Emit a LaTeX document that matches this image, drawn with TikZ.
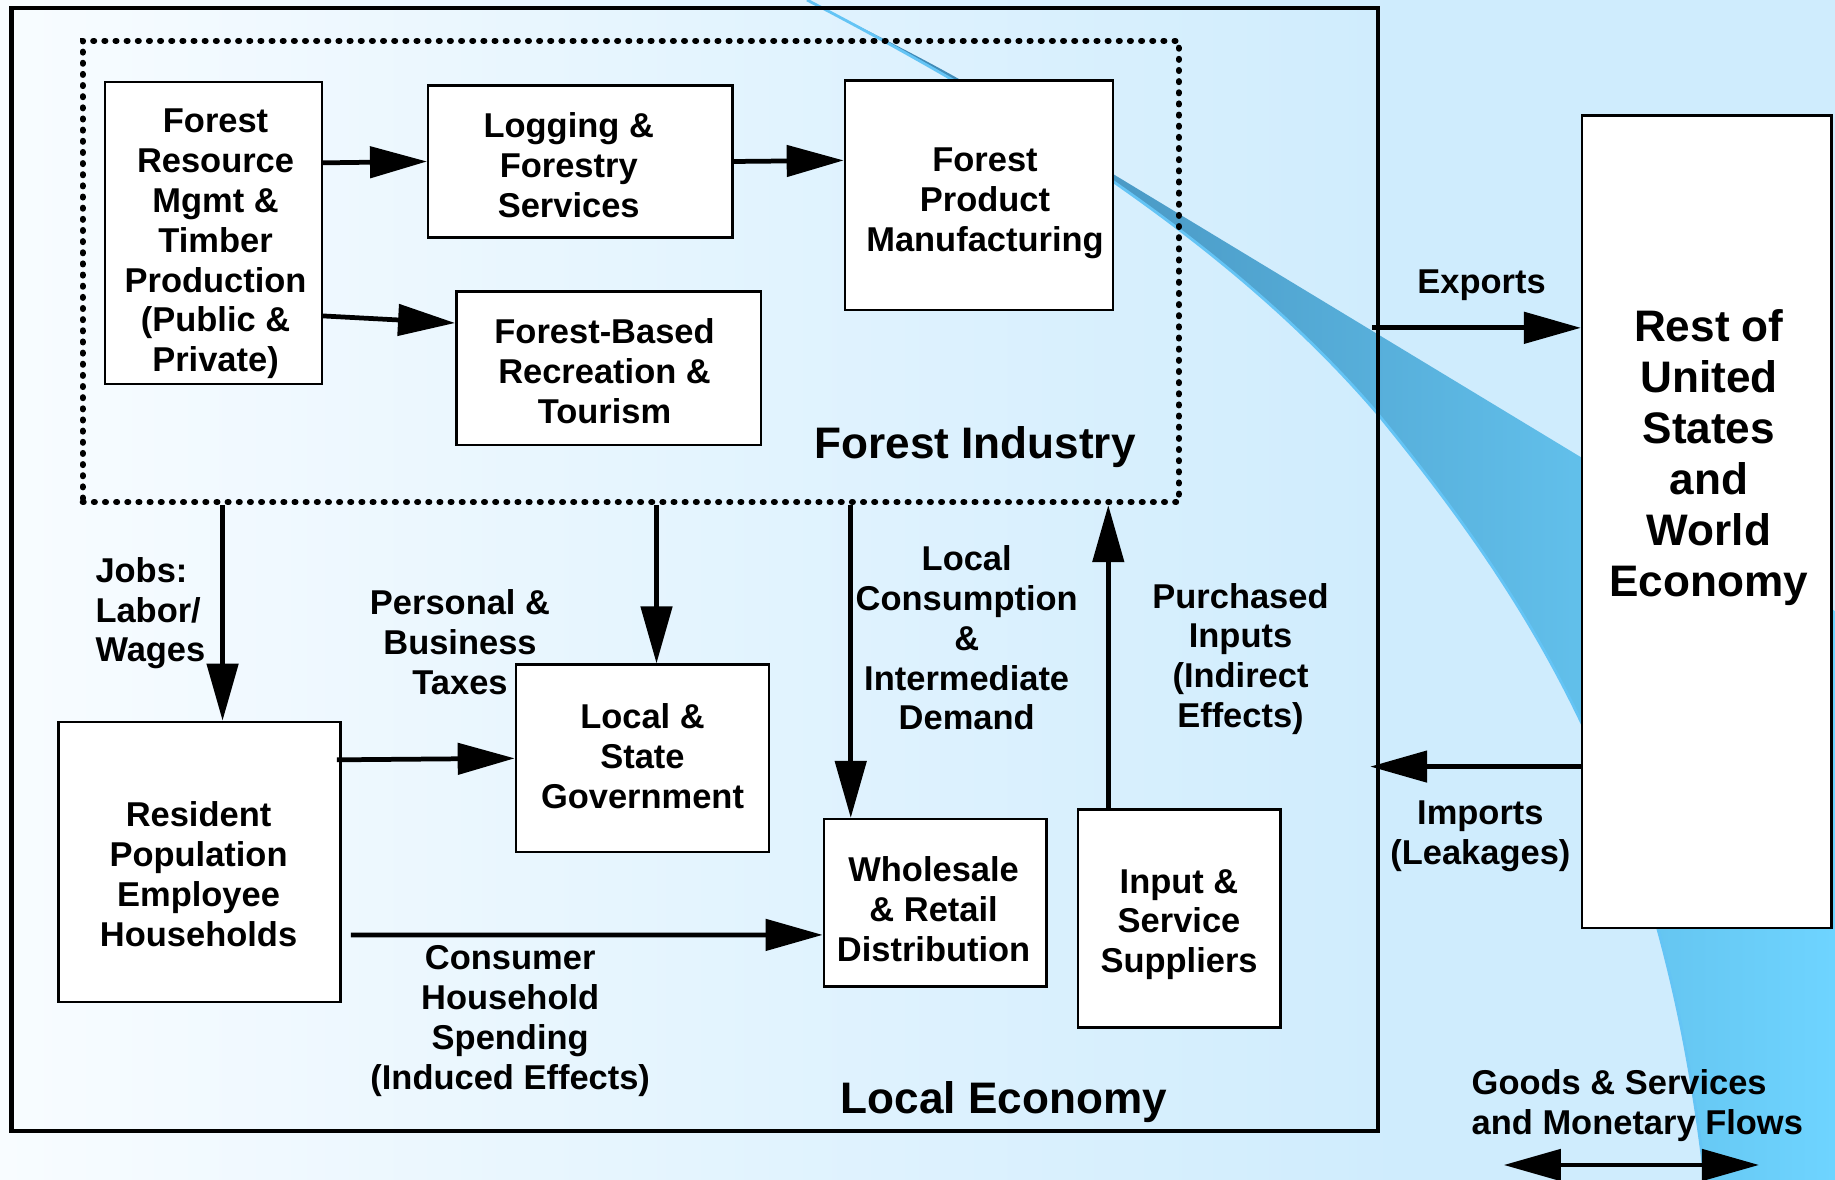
\documentclass[tikz,border=0pt]{standalone}
\usepackage{fontspec}
\setmainfont{Liberation Sans}
\usetikzlibrary{arrows.meta}
\definecolor{bgleft}{RGB}{248,252,255}
\definecolor{bgright}{RGB}{207,236,253}
\definecolor{swdark}{RGB}{59,129,173}
\definecolor{swlight}{RGB}{110,212,255}
\definecolor{swedge}{RGB}{100,196,245}

\begin{document}
\begin{tikzpicture}[x=0.01cm,y=-0.01cm,
        txt/.style={font=\fontsize{9.8}{11.35}\selectfont\bfseries, align=center, inner sep=0pt},
        bigtxt/.style={font=\fontsize{12.55}{14.5}\selectfont\bfseries, align=center, inner sep=0pt},
        sector/.style={draw, fill=white, line width=0.7pt, inner sep=0pt},
        ecobox/.style={draw, line width=1.3pt, inner sep=0pt},
        indline/.style={draw, line width=1.7pt, line cap=round, dash pattern=on 0.3pt off 2.87pt, inner sep=0pt},
        flowarrow/.style={line width=1.35pt, -{Triangle[length=5.7mm,width=3.1mm]}}]
        \shade[left color=bgleft, right color=bgright] (0,0) rectangle (1400,1180);
        \fill[bgright] (1399,0) rectangle (1835,1180);
        \useasboundingbox (0,0) rectangle (1835,1180);
        \shade[left color=swdark, right color=swlight] (807,0) .. controls (965,80) .. (1113,174) -- (1835,611) -- (1835,1180) -- (1705,1180) .. controls (1662,800) and (1530,600) .. (1377,413) .. controls (1227,238) and (1007,104) .. (807,0) -- cycle;
        \draw[swedge, line width=0.8pt] (807,0) .. controls (1007,104) and (1227,238) .. (1377,413) .. controls (1530,600) and (1662,800) .. (1705,1180);
        \node[ecobox, minimum width=13.658cm, minimum height=11.223cm] (local) at (694.6,569.35) {};
        \node[indline, minimum width=10.955cm, minimum height=4.61cm] (forind) at (630.75,271.5) {};
        \node[sector, minimum width=2.165cm, minimum height=3.02cm] (fres) at (213.55,232.9) {};
        \node[txt] (frestxt) at ([xshift=0.02cm,yshift=-0.11cm]fres.center) {Forest\\Resource\\Mgmt \&\\Timber\\Production\\(Public \&\\Private)};
        \node[sector, minimum width=3.043cm, minimum height=1.522cm] (log) at (580.45,161.5) {};
        \node[txt] (logtxt) at ([xshift=-0.117cm,yshift=-0.035cm]log.center) {Logging \&\\Forestry\\Services};
        \node[sector, minimum width=2.68cm, minimum height=2.293cm] (fpm) at (979,195.45) {};
        \node[txt] (fpmtxt) at ([xshift=0.06cm,yshift=-0.08cm]fpm.center) {Forest\\Product\\Manufacturing};
        \node[sector, minimum width=3.043cm, minimum height=1.533cm] (rec) at (608.55,368.05) {};
        \node[txt] (rectxt) at ([xshift=-0.04cm,yshift=-0.035cm]rec.center) {Forest-Based\\Recreation \&\\Tourism};
        \node[sector, minimum width=2.821cm, minimum height=2.798cm] (res) at (199.55,861.9) {};
        \node[txt] (restxt) at ([xshift=-0.01cm,yshift=-0.12cm]res.center) {Resident\\Population\\Employee\\Households};
        \node[sector, minimum width=2.53cm, minimum height=1.873cm] (gov) at (642.5,758.35) {};
        \node[txt] (govtxt) at ([yshift=0.02cm]gov.center) {Local \&\\State\\Government};
        \node[sector, minimum width=2.224cm, minimum height=1.674cm] (whl) at (935.1,902.9) {};
        \node[txt] (whltxt) at ([xshift=-0.015cm,yshift=-0.06cm]whl.center) {Wholesale\\\& Retail\\Distribution};
        \node[sector, minimum width=2.025cm, minimum height=2.177cm] (inp) at (1179.05,918.65) {};
        \node[txt] (inptxt) at ([yshift=-0.06cm]inp.center) {Input \&\\Service\\Suppliers};
        \node[sector, minimum width=2.493cm, minimum height=8.121cm] (rest) at (1706.85,521.95) {};
        \node[bigtxt] (resttxt) at ([xshift=0.02cm,yshift=0.643cm]rest.center) {Rest of\\United\\States\\and\\World\\Economy};
        \draw[flowarrow] ([yshift=0.70cm]fres.east) -- (log.west);
        \draw[flowarrow] ([yshift=-0.83cm]fres.east) -- ([yshift=0.45cm]rec.west);
        \draw[flowarrow] (log.east) -- ([yshift=0.35cm]fpm.west);
        \coordinate (exptip) at ([yshift=1.94cm]rest.west);
        \draw[flowarrow] ([xshift=-0.08cm]local.east |- exptip) -- (exptip);
        \coordinate (imptail) at ([yshift=-2.445cm]rest.west);
        \draw[flowarrow] (imptail) -- ([xshift=-0.1cm]local.east |- imptail);
        \coordinate (jobtip) at ([xshift=0.23cm]res.north);
        \draw[flowarrow] (forind.south -| jobtip) -- (jobtip);
        \coordinate (taxtip) at ([xshift=0.14cm]gov.north);
        \draw[flowarrow] (forind.south -| taxtip) -- (taxtip);
        \coordinate (lcdtip) at ([xshift=-0.843cm]whl.north);
        \draw[flowarrow] (forind.south -| lcdtip) -- (lcdtip);
        \coordinate (pintail) at ([xshift=-0.707cm]inp.north);
        \draw[flowarrow] (pintail) -- (forind.south -| pintail);
        \draw[flowarrow] ([xshift=-0.05cm,yshift=1.02cm]res.east) -- (gov.west);
        \draw[flowarrow] ([xshift=0.09cm,yshift=-0.73cm]res.east) -- ([yshift=-0.32cm]whl.west);
        \node[txt, anchor=west, align=left] (jobs) at (94.8,613.2) {Jobs:\\Labor/\\Wages};
        \node[txt] (taxes) at (460,642.5) {Personal \&\\Business\\Taxes};
        \node[txt] (lcd) at (966.7,637.8) {Local\\Consumption\\\&\\Intermediate\\Demand};
        \node[txt] (pin) at (1240.5,659) {Purchased\\Inputs\\(Indirect\\Effects)};
        \node[txt] (exp) at (1481.6,285.5) {Exports};
        \node[txt] (imp) at (1480.4,836.5) {Imports\\(Leakages)};
        \node[txt] (chs) at (510.2,1021) {Consumer\\Household\\Spending\\(Induced Effects)};
        \node[bigtxt] (loclbl) at (1004,1102.5) {Local Economy};
        \node[bigtxt] (indlbl) at (975,447) {Forest Industry};
        \node[txt, anchor=west, align=left] (legend) at (1471,1106) {Goods \& Services\\and Monetary Flows};
        \coordinate (lgl) at (1503.8,1165);
        \coordinate (lgr) at (1759,1165);
        \draw[line width=1.35pt, {Triangle[length=5.7mm,width=3.1mm]}-{Triangle[length=5.7mm,width=3.1mm]}] (lgl) -- (lgr);
    \end{tikzpicture}
\end{document}
